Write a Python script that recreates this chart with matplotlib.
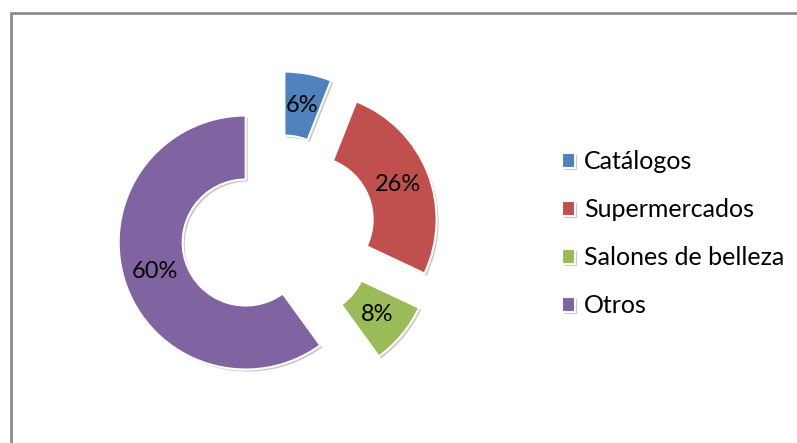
import matplotlib
matplotlib.use("Agg")
import matplotlib.pyplot as plt
import matplotlib.patheffects as pe
from matplotlib.patches import Rectangle

categories = ["Catálogos", "Supermercados", "Salones de belleza", "Otros"]
shares = [6, 26, 8, 60]
colors = ["#4F81BD", "#C0504D", "#9BBB59", "#8064A2"]

W, H = 797, 443
plt.rcParams["font.family"] = ["Lato", "DejaVu Sans"]

fig = plt.figure(figsize=(W / 100, H / 100), dpi=100)
ax = fig.add_axes([0, 0, 1, 1])

# work in pixel-like data units so the ring geometry is easy to place
radius = 127
ring = 64
wedges, texts, autotexts = ax.pie(
    shares,
    colors=colors,
    startangle=90,
    counterclock=False,
    radius=radius,
    center=(278, H - 232),
    explode=[34] * len(shares),
    autopct="%1.0f%%",
    pctdistance=0.75,
    wedgeprops=dict(width=ring, edgecolor="white", linewidth=1.5),
    textprops=dict(fontsize=17, color="black"),
)
for w in wedges:
    w.set_path_effects([pe.SimplePatchShadow(offset=(1.5, -1.5), alpha=0.25), pe.Normal()])

ax.set_xlim(0, W)
ax.set_ylim(0, H)
ax.set_aspect("equal")
ax.axis("off")

ax.legend(
    wedges, categories,
    loc="upper left",
    bbox_to_anchor=(539 / W, 1 - 128 / H),
    frameon=False,
    fontsize=18,
    handlelength=0.55,
    handleheight=0.55,
    handletextpad=0.35,
    labelspacing=1.0,
)

# chart area border
fig.add_artist(Rectangle((11 / W, -0.1), 1.0, 1.1 - 13 / H,
                         transform=fig.transFigure, fill=False,
                         edgecolor="#8c8c8c", linewidth=2))

fig.savefig("out.png", dpi=100)
